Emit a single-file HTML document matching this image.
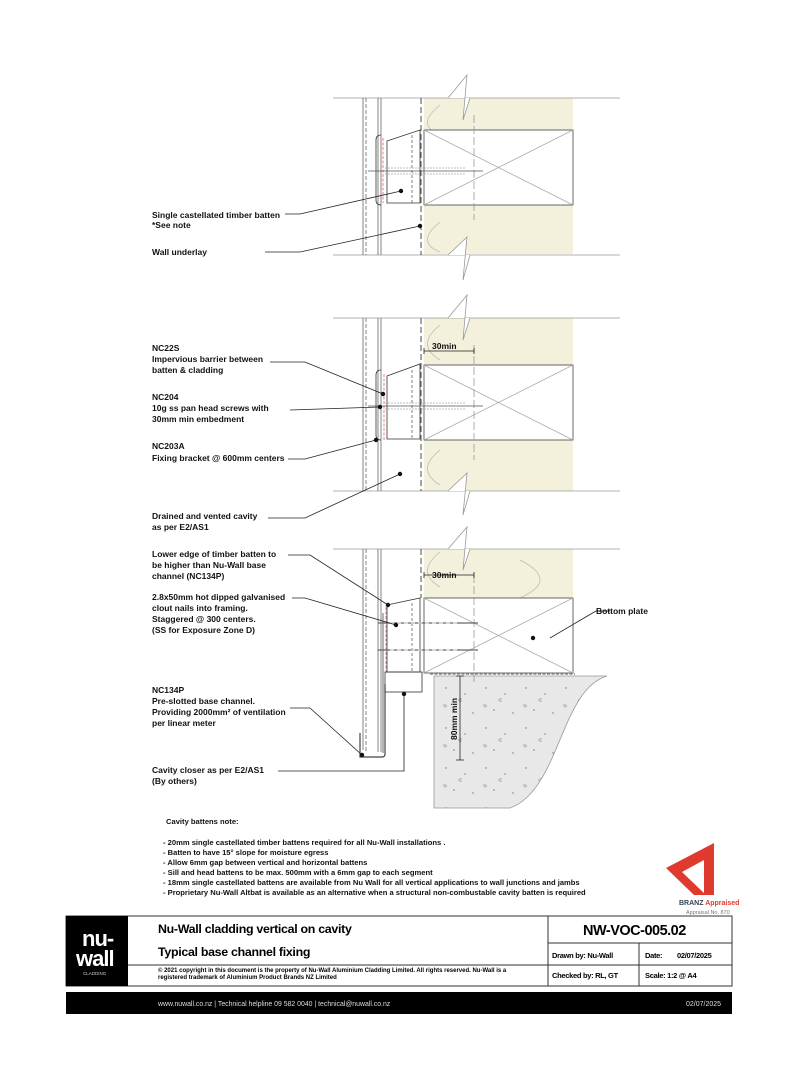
<!DOCTYPE html>
<html><head><meta charset="utf-8"><style>
html,body{margin:0;padding:0;background:#fff}
body{width:800px;height:1080px;position:relative;overflow:hidden;font-family:"Liberation Sans",sans-serif}
svg text{font-family:"Liberation Sans",sans-serif}
.l{font-size:8.5px;font-weight:bold;fill:#111}
.n{font-size:7.6px;font-weight:bold;fill:#111}
</style></head><body>
<svg width="800" height="1080" viewBox="0 0 800 1080" xmlns="http://www.w3.org/2000/svg">
<defs>
<pattern id="conc" width="40" height="40" patternUnits="userSpaceOnUse">
<rect width="40" height="40" fill="#e8e8e8"/>
<circle cx="6" cy="8" r="0.7" fill="#777"/><circle cx="25" cy="14" r="0.7" fill="#777"/>
<circle cx="14" cy="30" r="0.7" fill="#777"/><circle cx="33" cy="33" r="0.7" fill="#777"/>
<path d="M18 20 l3 -2 l0 4z M4 24 l3 2 l-3 1z" fill="none" stroke="#888" stroke-width="0.5"/>
</pattern>
</defs>

<!-- ===== Section 1 ===== -->
<g stroke="#999" stroke-width="0.8" fill="none">
<rect x="424" y="98" width="149" height="156" fill="#f3f0dc" stroke="none"/>
<line x1="333" y1="98" x2="620" y2="98"/><line x1="333" y1="255" x2="620" y2="255"/>
<path d="M448 98 L467 75 L463 120 L470 98" fill="#fff" stroke="#999"/>
<path d="M448 255 L467 237 L463 280 L470 255" fill="#fff" stroke="#999"/>
<path d="M440 105 q-25 20 0 30 M520 160 q40 30 0 45 M440 222 q-25 20 0 30" stroke="#bbb"/>
</g>
<g stroke="#666" stroke-width="0.8" fill="none">
<line x1="363" y1="98" x2="363" y2="255"/><line x1="366" y1="98" x2="366" y2="255" stroke-dasharray="4 2"/>
<line x1="378" y1="98" x2="378" y2="255"/><line x1="381" y1="98" x2="381" y2="255"/>
<line x1="421" y1="98" x2="421" y2="255" stroke="#222" stroke-dasharray="6 3"/>
<rect x="424" y="130" width="149" height="75" fill="#fff" stroke="#444"/>
<path d="M424 130 L573 205 M424 205 L573 130" stroke="#aaa"/>
<line x1="474" y1="115" x2="474" y2="220" stroke="#999" stroke-dasharray="8 3"/>
<path d="M387 141 L420 130 L420 203 L387 203 Z" stroke="#333"/>
<line x1="412" y1="135" x2="412" y2="203" stroke-dasharray="3 2"/>
<path d="M381 135 q-5 0 -5 5 v60 q0 5 5 5" stroke="#333"/>
<line x1="383" y1="138" x2="383" y2="203" stroke="#d66" stroke-dasharray="3 1.5"/>
<line x1="368" y1="171" x2="483" y2="171" stroke="#555"/>
<path d="M385 168 h80 M385 174 h80" stroke="#aaa" stroke-dasharray="2 1"/>
</g>

<!-- ===== Section 2 ===== -->
<g stroke="#999" stroke-width="0.8" fill="none">
<rect x="424" y="318" width="149" height="173" fill="#f3f0dc" stroke="none"/>
<line x1="333" y1="318" x2="620" y2="318"/><line x1="333" y1="491" x2="620" y2="491"/>
<path d="M448 318 L467 295 L463 340 L470 318" fill="#fff" stroke="#999"/>
<path d="M448 491 L467 473 L463 515 L470 491" fill="#fff" stroke="#999"/>
<path d="M440 325 q-25 20 0 35 M440 450 q-25 20 0 35" stroke="#bbb"/>
</g>
<g stroke="#666" stroke-width="0.8" fill="none">
<line x1="363" y1="318" x2="363" y2="491"/><line x1="366" y1="318" x2="366" y2="491" stroke-dasharray="4 2"/>
<line x1="378" y1="318" x2="378" y2="491"/><line x1="381" y1="318" x2="381" y2="491"/>
<line x1="421" y1="318" x2="421" y2="491" stroke="#222" stroke-dasharray="6 3"/>
<rect x="424" y="365" width="149" height="75" fill="#fff" stroke="#444"/>
<path d="M424 365 L573 440 M424 440 L573 365" stroke="#aaa"/>
<line x1="474" y1="345" x2="474" y2="460" stroke="#999" stroke-dasharray="8 3"/>
<path d="M387 376 L420 364 L420 439 L387 439 Z" stroke="#333"/>
<line x1="412" y1="370" x2="412" y2="439" stroke-dasharray="3 2"/>
<path d="M381 370 q-5 0 -5 5 v60 q0 5 5 5" stroke="#333"/>
<line x1="384" y1="374" x2="384" y2="440" stroke="#d66" stroke-dasharray="3 1.5"/>
<line x1="368" y1="406" x2="483" y2="406" stroke="#555"/>
<path d="M385 403 h80 M385 409 h80" stroke="#aaa" stroke-dasharray="2 1"/>
<line x1="424" y1="351" x2="474" y2="351" stroke="#222"/>
<path d="M424 348 v6 M474 348 v6" stroke="#222"/>
</g>
<text x="432" y="349" class="n" style="font-size:8.5px">30min</text>

<!-- ===== Section 3 ===== -->
<path d="M434 676 L607 676 C560 690 560 790 510 808 L434 808 Z" fill="url(#conc)" stroke="#999" stroke-width="0.8"/>
<g stroke="#999" stroke-width="0.8" fill="none">
<rect x="424" y="549" width="149" height="49" fill="#f3f0dc" stroke="none"/>
<line x1="333" y1="549" x2="620" y2="549"/>
<path d="M448 549 L467 527 L463 570 L470 549" fill="#fff" stroke="#999"/>
<path d="M440 552 q-25 20 0 35 M520 560 q40 20 0 38" stroke="#bbb"/>
</g>
<g stroke="#666" stroke-width="0.8" fill="none">
<line x1="363" y1="549" x2="363" y2="750"/><line x1="366" y1="549" x2="366" y2="752" stroke-dasharray="4 2"/>
<line x1="378" y1="549" x2="378" y2="752"/><line x1="381" y1="549" x2="381" y2="752"/>
<line x1="421" y1="549" x2="421" y2="598" stroke="#222" stroke-dasharray="6 3"/>
<path d="M360 733 v24 h22 q3 0 3 -3 v-70" stroke="#444" stroke-width="1.2"/>
<path d="M383 613 v140" stroke="#444"/>
<rect x="424" y="598" width="149" height="75" fill="#fff" stroke="#444"/>
<path d="M424 598 L573 673 M424 673 L573 598" stroke="#aaa"/>
<line x1="474" y1="575" x2="474" y2="685" stroke="#999" stroke-dasharray="8 3"/>
<path d="M387 605 L420 598 L420 672 L387 672 Z" stroke="#333"/>
<rect x="385" y="672" width="37" height="20" stroke="#333"/>
<line x1="412" y1="603" x2="412" y2="672" stroke-dasharray="3 2"/>
<line x1="386" y1="607" x2="386" y2="673" stroke="#d66" stroke-dasharray="3 1.5"/>
<path d="M378 623 h100 M378 650 h100" stroke="#666" stroke-width="1.2"/>
<path d="M390 623 h70 M390 650 h70" stroke="#fff" stroke-dasharray="4 3"/>
<line x1="424" y1="575" x2="474" y2="575" stroke="#222"/>
<path d="M424 572 v6 M474 572 v6" stroke="#222"/>
<line x1="430" y1="674" x2="575" y2="674" stroke="#888" stroke-dasharray="3 1.5" stroke-width="1.5"/>
<line x1="460" y1="676" x2="460" y2="760" stroke="#222"/>
<path d="M456 676 h8 M456 760 h8" stroke="#222"/>
</g>
<text x="432" y="578" class="n" style="font-size:8.5px">30min</text>
<text class="n" style="font-size:8.5px" transform="translate(457,740) rotate(-90)">80mm min</text>

<!-- leaders -->
<g stroke="#222" stroke-width="0.8" fill="none">
<path d="M285 214 L300 214 L401 191"/><path d="M265 252 L300 252 L420 226"/>
<path d="M270 362 L305 362 L383 394"/><path d="M290 410 L380 407"/>
<path d="M288 459 L305 459 L376 440"/><path d="M268 518 L305 518 L400 474"/>
<path d="M288 555 L310 555 L388 605"/><path d="M292 598 L305 598 L396 625"/>
<path d="M290 708 L310 708 L362 755"/><path d="M278 771 L404 771 L404 694"/>
<path d="M596 611 L610 611"/><path d="M596 611 L550 638"/>
</g>
<g fill="#111">
<circle cx="401" cy="191" r="2.2"/><circle cx="420" cy="226" r="2.2"/>
<circle cx="383" cy="394" r="2.2"/><circle cx="380" cy="407" r="2.2"/>
<circle cx="376" cy="440" r="2.2"/><circle cx="400" cy="474" r="2.2"/>
<circle cx="388" cy="605" r="2.2"/><circle cx="396" cy="625" r="2.2"/>
<circle cx="362" cy="755" r="2.2"/><circle cx="404" cy="694" r="2.2"/>
<circle cx="533" cy="638" r="2.2"/>
</g>

<!-- labels -->
<text class="l" x="152" y="218">Single castellated timber batten</text>
<text class="l" x="152" y="228">*See note</text>
<text class="l" x="152" y="255">Wall underlay</text>
<text class="l" x="152" y="351">NC22S</text>
<text class="l" x="152" y="362">Impervious barrier between</text>
<text class="l" x="152" y="373">batten &amp; cladding</text>
<text class="l" x="152" y="400">NC204</text>
<text class="l" x="152" y="411">10g ss pan head screws with</text>
<text class="l" x="152" y="422">30mm min embedment</text>
<text class="l" x="152" y="449">NC203A</text>
<text class="l" x="152" y="461">Fixing bracket @ 600mm centers</text>
<text class="l" x="152" y="519">Drained and vented cavity</text>
<text class="l" x="152" y="530">as per  E2/AS1</text>
<text class="l" x="152" y="557">Lower edge of timber batten to</text>
<text class="l" x="152" y="568">be higher than Nu-Wall base</text>
<text class="l" x="152" y="579">channel (NC134P)</text>
<text class="l" x="152" y="600">2.8x50mm hot dipped galvanised</text>
<text class="l" x="152" y="611">clout nails into framing.</text>
<text class="l" x="152" y="622">Staggered @ 300 centers.</text>
<text class="l" x="152" y="633">(SS for Exposure Zone D)</text>
<text class="l" x="152" y="693">NC134P</text>
<text class="l" x="152" y="704">Pre-slotted base channel.</text>
<text class="l" x="152" y="715">Providing 2000mm² of ventilation</text>
<text class="l" x="152" y="726">per linear meter</text>
<text class="l" x="152" y="773">Cavity closer as per E2/AS1</text>
<text class="l" x="152" y="784">(By others)</text>
<text class="l" x="596" y="614">Bottom plate</text>

<!-- notes -->
<text class="n" x="166" y="824">Cavity battens note:</text>
<text class="n" x="163" y="845">- 20mm single castellated timber battens required for all Nu-Wall installations .</text>
<text class="n" x="163" y="855">- Batten to have 15° slope for moisture egress</text>
<text class="n" x="163" y="865">- Allow 6mm gap between vertical and horizontal battens</text>
<text class="n" x="163" y="875">- Sill and head battens to be max. 500mm with a 6mm gap to each segment</text>
<text class="n" x="163" y="885">- 18mm single castellated battens are available from Nu Wall for all vertical applications to wall junctions and jambs</text>
<text class="n" x="163" y="895">- Proprietary Nu-Wall Altbat is available as an alternative when a structural non-combustable cavity batten is required</text>

<!-- BRANZ -->
<path d="M666 868 L714 843 L714 895 L704 895 L704 860 L682 872 L706 895 L694 895 Z" fill="#e03a2f"/>
<text x="679" y="905" style="font-size:7px;font-weight:bold;fill:#345">BRANZ <tspan fill="#e03a2f">Appraised</tspan></text>
<text x="686" y="914" style="font-size:5.5px;fill:#777">Appraisal No. 870</text>

<!-- title block -->
<rect x="66" y="916" width="666" height="70" fill="#fff" stroke="#333" stroke-width="1"/>
<rect x="66" y="916" width="62" height="70" fill="#000"/>
<text x="82" y="946" style="font-size:22px;font-weight:bold;fill:#fff;letter-spacing:-1px">nu-</text>
<text x="76" y="966" style="font-size:22px;font-weight:bold;fill:#fff;letter-spacing:-1px">wall</text>
<text x="83" y="975" style="font-size:4.5px;fill:#ccc">CLADDING</text>
<line x1="128" y1="965" x2="548" y2="965" stroke="#333"/>
<line x1="548" y1="916" x2="548" y2="986" stroke="#333"/>
<line x1="548" y1="943" x2="732" y2="943" stroke="#333"/>
<line x1="548" y1="965" x2="732" y2="965" stroke="#333"/>
<line x1="639" y1="943" x2="639" y2="986" stroke="#333"/>
<text x="158" y="933" style="font-size:12.4px;font-weight:bold;letter-spacing:-0.3px">Nu-Wall cladding vertical on cavity</text>
<text x="158" y="956" style="font-size:12.4px;font-weight:bold;letter-spacing:-0.3px">Typical base channel fixing</text>
<text x="158" y="972" style="font-size:6px;font-weight:bold">© 2021 copyright in this document is the property of Nu-Wall Aluminium Cladding Limited. All rights reserved. Nu-Wall is a</text>
<text x="158" y="979" style="font-size:6px;font-weight:bold">registered trademark of Aluminium Product Brands NZ Limited</text>
<text x="583" y="935" style="font-size:14.5px;font-weight:bold;letter-spacing:-0.5px">NW-VOC-005.02</text>
<text x="552" y="958" style="font-size:7.5px;font-weight:bold;letter-spacing:-0.3px">Drawn by: Nu-Wall</text>
<text x="645" y="958" style="font-size:7.5px;font-weight:bold;letter-spacing:-0.3px">Date:</text>
<text x="677" y="958" style="font-size:7.5px;font-weight:bold;letter-spacing:-0.3px">02/07/2025</text>
<text x="552" y="978" style="font-size:7.5px;font-weight:bold;letter-spacing:-0.3px">Checked by: RL, GT</text>
<text x="645" y="978" style="font-size:7.5px;font-weight:bold;letter-spacing:-0.3px">Scale:   1:2 @ A4</text>

<rect x="66" y="992" width="666" height="22" fill="#000"/>
<text x="158" y="1006" style="font-size:6.9px;fill:#ddd">www.nuwall.co.nz  |  Technical helpline 09 582 0040  |  technical@nuwall.co.nz</text>
<text x="686" y="1006" style="font-size:7px;fill:#ddd">02/07/2025</text>
</svg>
</body></html>
